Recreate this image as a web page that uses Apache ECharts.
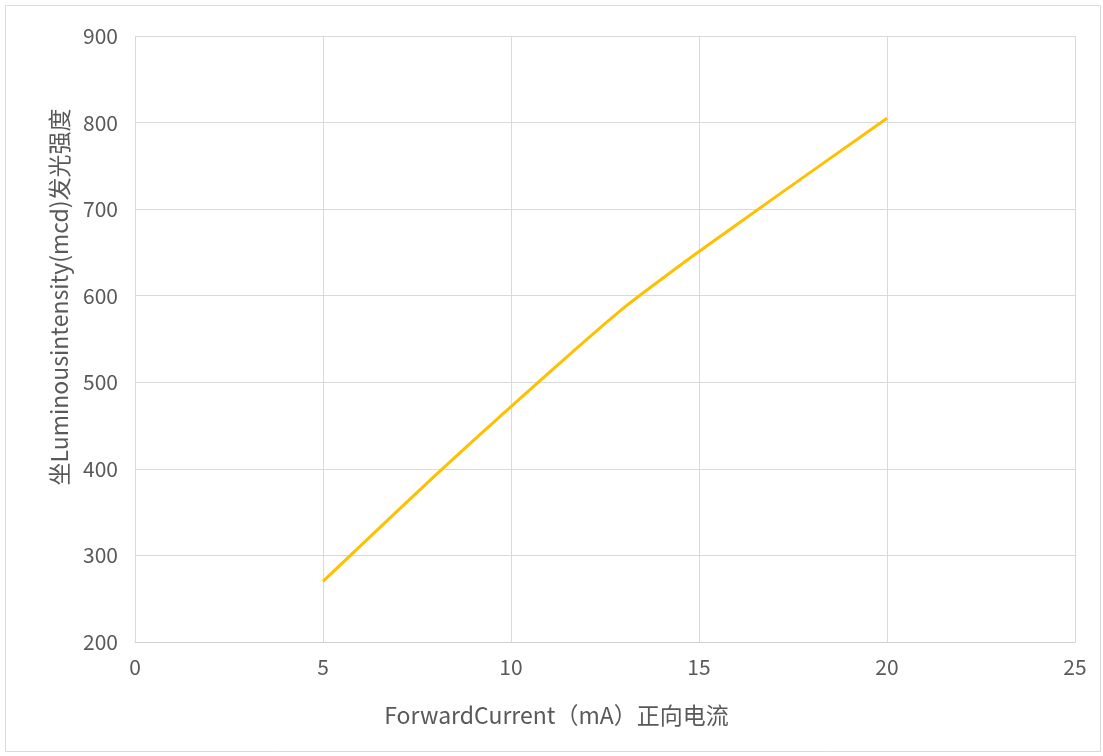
<!DOCTYPE html>
<html><head><meta charset="utf-8">
<script src="https://cdn.jsdelivr.net/npm/echarts@6/dist/echarts.min.js"></script>
<style>html,body{margin:0;padding:0;background:#fff}#c{width:1103px;height:756px}</style>
</head><body><div id="c"></div>
<script>
const currentMA = [5, 8, 10, 12, 13, 14, 15, 17, 20];
const intensityMcd = [270, 393, 472, 549, 586, 619, 651, 713, 805];
const xTicks = [0, 5, 10, 15, 20, 25];
const yTicks = [200, 300, 400, 500, 600, 700, 800, 900];
const xName = 'ForwardCurrent（mA）正向电流';
const yName = '坐Luminousintensity(mcd)发光强度';

const font = '"Microsoft YaHei","Noto Sans CJK SC","Open Sans",sans-serif';
const chart = echarts.init(document.getElementById('c'));
chart.setOption({
  animation: false,
  textStyle: {fontFamily: font},
  graphic: [{type: 'rect', shape: {x: 5.5, y: 5.5, width: 1095, height: 746},
    style: {fill: 'none', stroke: '#d9d9d9', lineWidth: 1}, silent: true}],
  grid: {left: 135, right: 28, top: 36, bottom: 114, containLabel: false, outerBoundsMode: 'none'},
  xAxis: {
    type: 'value', min: xTicks[0], max: xTicks[xTicks.length - 1], interval: 5,
    name: xName, nameLocation: 'middle', nameGap: 62,
    nameTextStyle: {fontSize: 23, color: '#595959', padding: [0, 97, 0, 0]},
    axisLine: {show: true, lineStyle: {color: '#d0d0d0'}},
    axisTick: {show: false},
    axisLabel: {fontSize: 21, color: '#595959', margin: 15},
    splitLine: {show: true, lineStyle: {color: '#d9d9d9', width: 1}}
  },
  yAxis: {
    type: 'value', min: yTicks[0], max: yTicks[yTicks.length - 1], interval: 100,
    name: yName, nameLocation: 'middle', nameGap: 64, nameRotate: 90,
    nameTextStyle: {fontSize: 23, color: '#595959', padding: [0, 0, 0, 84]},
    axisLine: {show: false},
    axisTick: {show: false},
    axisLabel: {fontSize: 21, color: '#595959', margin: 17},
    splitLine: {show: true, lineStyle: {color: '#d9d9d9', width: 1}}
  },
  series: [{
    type: 'line', smooth: 0.3, symbol: 'none',
    data: currentMA.map((x, i) => [x, intensityMcd[i]]),
    lineStyle: {color: '#FFC000', width: 3}
  }]
});
</script></body></html>
